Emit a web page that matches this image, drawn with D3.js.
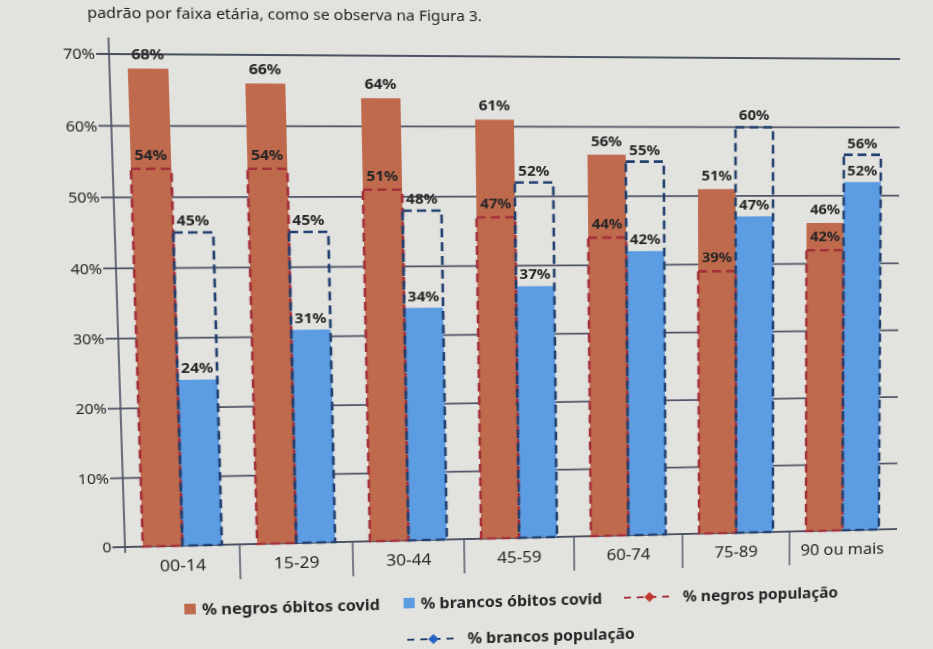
<!DOCTYPE html>
<html>
<head>
<meta charset="utf-8">
<script src="https://cdn.jsdelivr.net/npm/d3@7"></script>
<style>
  html, body { margin: 0; padding: 0; background: #e2e2de; overflow: hidden; width: 933px; height: 649px; }
  svg { display: block; transform-origin: 0 0; }
</style>
</head>
<body>
<svg id="chart" width="960" height="720"></svg>
<script>
// Age groups and the four series (percent)
const categories = ["00-14", "15-29", "30-44", "45-59", "60-74", "75-89", "90 ou mais"];
const negrosObitos = [68, 66, 64, 61, 56, 51, 46];
const brancosObitos = [24, 31, 34, 37, 42, 47, 52];
const negrosPopulacao = [54, 54, 51, 47, 44, 39, 42];
const brancosPopulacao = [45, 45, 48, 52, 55, 60, 56];
const yTicks = [0, 10, 20, 30, 40, 50, 60, 70];
const legendLabels = ["% negros óbitos covid", "% brancos óbitos covid", "% negros população", "% brancos população"];
const captionText = "padrão por faixa etária, como se observa na Figura 3.";

const colors = {
  negros: "#bf6a4d",
  brancos: "#5c9ce2",
  negrosLine: "#a3303a",
  brancosLine: "#22406f",
  grid: "#4b5264",
  text: "#262626"
};

// Plot frame
const L = 125, R = 895, T = 54, B = 547;

const svg = d3.select("#chart");

const x = d3.scaleBand().domain(categories).range([L, R]);
const inner = d3.scaleBand().domain(["negros", "brancos"]).range([0, x.bandwidth()]).paddingOuter(0.45);
const y = d3.scaleLinear().domain([0, 70]).range([B, T]);

const rows = categories.map((c, i) => ({
  cat: c,
  negros: negrosObitos[i],
  brancos: brancosObitos[i],
  negrosPop: negrosPopulacao[i],
  brancosPop: brancosPopulacao[i]
}));

// caption line above the chart
svg.append("text")
  .attr("x", 106).attr("y", 19)
  .attr("font-family", "Noto Sans, sans-serif")
  .attr("font-size", 15)
  .attr("fill", "#1e1e1e")
  .text(captionText);

// horizontal gridlines (extend left of the axis as tick marks)
svg.append("g").selectAll("line")
  .data(yTicks)
  .join("line")
  .attr("x1", L - 12).attr("x2", R + 2)
  .attr("y1", d => y(d)).attr("y2", d => y(d))
  .attr("stroke", colors.grid)
  .attr("stroke-width", d => d === 70 ? 2.2 : 1.8);

// y axis labels
const yAxis = d3.axisLeft(y).tickValues(yTicks).tickSize(0).tickPadding(13)
  .tickFormat(d => d === 0 ? "0" : d + "%");
const gy = svg.append("g").attr("transform", `translate(${L},0)`).call(yAxis);
gy.select(".domain").remove();
gy.selectAll("text")
  .attr("font-family", "Noto Sans, sans-serif")
  .attr("font-size", 15)
  .attr("fill", colors.text);

// y axis line
svg.append("line")
  .attr("x1", L).attr("x2", L)
  .attr("y1", T - 16).attr("y2", B + 6)
  .attr("stroke", colors.grid).attr("stroke-width", 1.6);

// category dividers below the baseline
svg.append("g").selectAll("line")
  .data(categories.slice(1))
  .join("line")
  .attr("x1", d => x(d)).attr("x2", d => x(d))
  .attr("y1", B).attr("y2", B + 36)
  .attr("stroke", colors.grid).attr("stroke-width", 1.4);

// category labels
const xAxis = d3.axisBottom(x).tickSize(0).tickPadding(14);
const gx = svg.append("g").attr("transform", `translate(0,${B})`).call(xAxis);
gx.select(".domain").remove();
gx.selectAll("text")
  .attr("font-family", "Noto Sans, sans-serif")
  .attr("font-size", 17)
  .attr("fill", colors.text);

const groups = svg.append("g").selectAll("g")
  .data(rows)
  .join("g")
  .attr("transform", d => `translate(${x(d.cat)},0)`);

// death bars
groups.append("rect")
  .attr("x", inner("negros"))
  .attr("width", inner.bandwidth())
  .attr("y", d => y(d.negros))
  .attr("height", d => y(0) - y(d.negros))
  .attr("fill", colors.negros);

groups.append("rect")
  .attr("x", inner("brancos"))
  .attr("width", inner.bandwidth())
  .attr("y", d => y(d.brancos))
  .attr("height", d => y(0) - y(d.brancos))
  .attr("fill", colors.brancos);

// population share outlines
groups.append("rect")
  .attr("x", inner("negros"))
  .attr("width", inner.bandwidth())
  .attr("y", d => y(d.negrosPop))
  .attr("height", d => y(0) - y(d.negrosPop))
  .attr("fill", "none")
  .attr("stroke", colors.negrosLine)
  .attr("stroke-width", 2.6)
  .attr("stroke-dasharray", "9,5");

groups.append("rect")
  .attr("x", inner("brancos"))
  .attr("width", inner.bandwidth())
  .attr("y", d => y(d.brancosPop))
  .attr("height", d => y(0) - y(d.brancosPop))
  .attr("fill", "none")
  .attr("stroke", colors.brancosLine)
  .attr("stroke-width", 2.6)
  .attr("stroke-dasharray", "9,5");

// value labels
const labelFont = sel => sel
  .attr("font-family", "Noto Sans, sans-serif")
  .attr("font-size", 15)
  .attr("font-weight", "bold")
  .attr("text-anchor", "middle")
  .attr("fill", colors.text);

const cxN = inner("negros") + inner.bandwidth() / 2;
const cxB = inner("brancos") + inner.bandwidth() / 2;

groups.append("text").call(labelFont)
  .attr("x", cxN).attr("y", d => y(d.negros) - 9)
  .text(d => d.negros + "%");
groups.append("text").call(labelFont)
  .attr("x", cxN).attr("y", d => y(d.negrosPop) - 9)
  .text(d => d.negrosPop + "%");
groups.append("text").call(labelFont)
  .attr("x", cxB).attr("y", d => y(d.brancosPop) - 7)
  .text(d => d.brancosPop + "%");
groups.append("text").call(labelFont)
  .attr("x", cxB).attr("y", d => y(d.brancos) - 7)
  .text(d => d.brancos + "%");

// legend
const legend = svg.append("g")
  .attr("font-family", "Noto Sans, sans-serif")
  .attr("font-size", 16)
  .attr("font-weight", "bold")
  .attr("fill", colors.text);

function swatch(xp, yp, color, label) {
  legend.append("rect").attr("x", xp).attr("y", yp - 6).attr("width", 11).attr("height", 11).attr("fill", color);
  legend.append("text").attr("x", xp + 17).attr("y", yp + 6).text(label);
}
function lineKey(xp, yp, color, marker, label) {
  legend.append("line").attr("x1", xp).attr("x2", xp + 52).attr("y1", yp).attr("y2", yp)
    .attr("stroke", color).attr("stroke-width", 2.2).attr("stroke-dasharray", "7,6");
  legend.append("path")
    .attr("d", d3.symbol(d3.symbolDiamond2, 70)())
    .attr("transform", `translate(${xp + 26},${yp})`)
    .attr("fill", marker);
  legend.append("text").attr("x", xp + 60).attr("y", yp + 6).text(label);
}
swatch(180, 613, colors.negros, legendLabels[0]);
swatch(394, 613, colors.brancos, legendLabels[1]);
lineKey(615, 613, colors.negrosLine, "#c0352e", legendLabels[2]);
lineKey(397, 651, colors.brancosLine, "#2463c4", legendLabels[3]);

// the printed page is photographed at an angle: project the flat chart
// onto the observed quadrilateral of the plot frame
function homography(src, dst) {
  const A = [], v = [];
  for (let i = 0; i < 4; i++) {
    const [xs, ys] = src[i], [u, w] = dst[i];
    A.push([xs, ys, 1, 0, 0, 0, -xs * u, -ys * u]); v.push(u);
    A.push([0, 0, 0, xs, ys, 1, -xs * w, -ys * w]); v.push(w);
  }
  const n = 8;
  for (let c = 0; c < n; c++) {
    let p = c;
    for (let r = c + 1; r < n; r++) if (Math.abs(A[r][c]) > Math.abs(A[p][c])) p = r;
    [A[c], A[p]] = [A[p], A[c]]; [v[c], v[p]] = [v[p], v[c]];
    for (let r = 0; r < n; r++) {
      if (r === c) continue;
      const f = A[r][c] / A[c][c];
      for (let k = c; k < n; k++) A[r][k] -= f * A[c][k];
      v[r] -= f * v[c];
    }
  }
  return v.map((val, i) => val / A[i][i]);
}
const [a, b, c, d, e, f, g, h] = homography(
  [[L, T], [R, T], [R, B], [L, B]],
  [[109, 54], [898, 59], [895, 529], [125, 547]]
);
svg.style("transform", `matrix3d(${a},${d},0,${g},${b},${e},0,${h},0,0,1,0,${c},${f},0,1)`);
</script>
</body>
</html>
